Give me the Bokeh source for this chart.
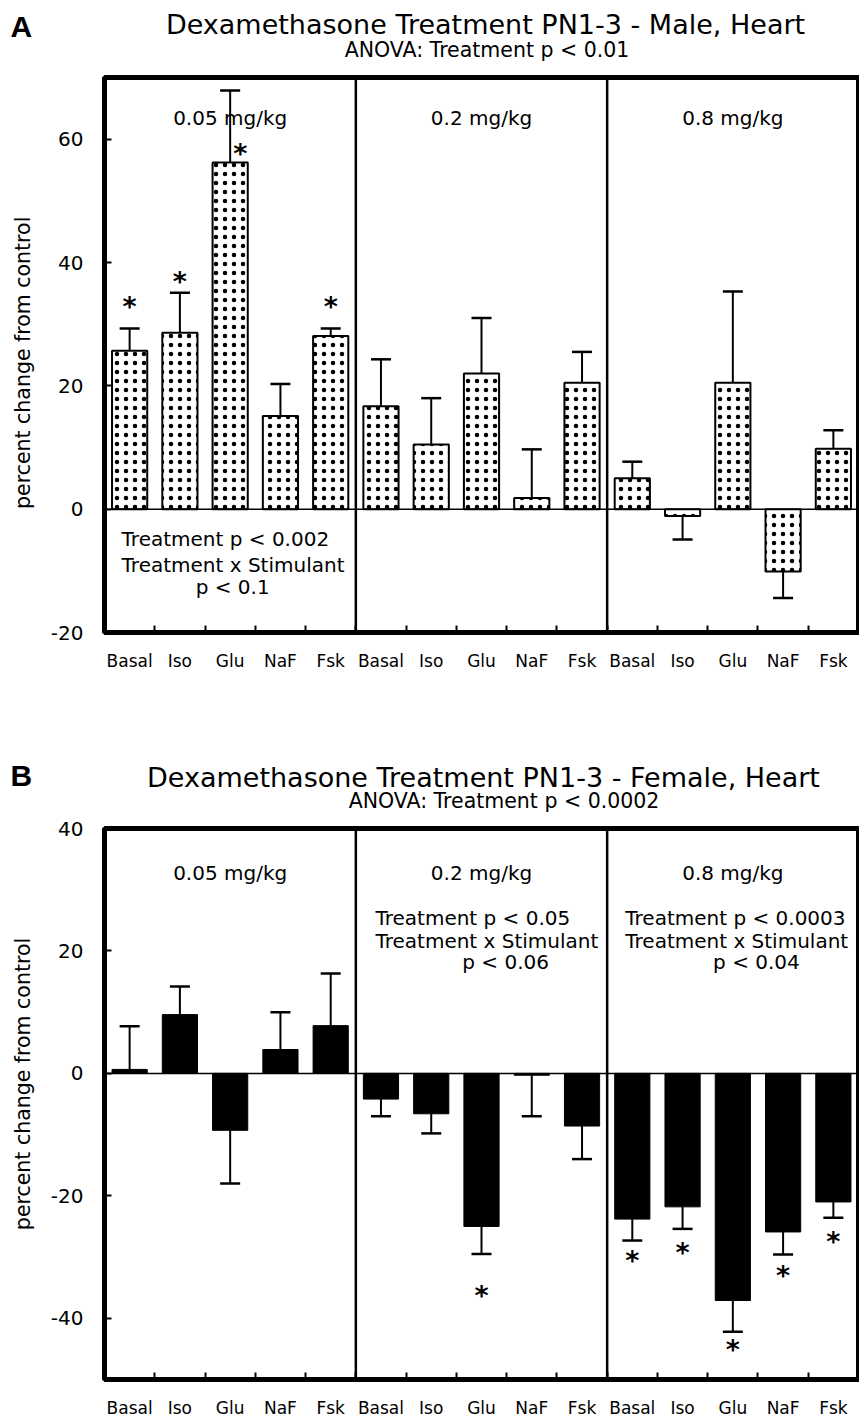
import math
from bokeh.plotting import figure
from bokeh.models import Span, Label, FixedTicker
from bokeh.layouts import column, row
from bokeh.embed import file_html
from bokeh.resources import INLINE
from bokeh.core.properties import value

# ---------------- data ----------------
stimulants = ["Basal", "Iso", "Glu", "NaF", "Fsk"]
doses = ["0.05 mg/kg", "0.2 mg/kg", "0.8 mg/kg"]

male_mean = [25.7, 28.6, 56.2, 15.1, 28.1,
             16.7, 10.5, 22.0, 1.8, 20.5,
             5.0, -1.1, 20.5, -10.1, 9.8]
male_err = [29.3, 35.1, 67.9, 20.3, 29.3,
            24.3, 18.0, 31.0, 9.7, 25.5,
            7.7, -4.9, 35.3, -14.4, 12.8]
male_star_x = [0.5, 1.5, 2.7, 4.5]
male_star_y = [33.8, 37.9, 58.7, 33.8]

female_mean = [0.65, 9.6, -9.3, 3.9, 7.8,
               -4.2, -6.6, -25.0, -0.3, -8.6,
               -23.8, -21.8, -37.1, -25.9, -21.0]
female_err = [7.7, 14.2, -18.0, 10.0, 16.3,
              -7.0, -9.8, -29.5, -7.0, -14.0,
              -27.3, -25.4, -42.2, -29.6, -23.6]
female_star_x = [7.5, 10.5, 11.5, 12.5, 13.5, 14.5]
female_star_y = [-35.3, -29.6, -28.2, -44.1, -32.1, -26.4]

male_title = "Dexamethasone Treatment PN1-3 - Male, Heart"
male_sub = "ANOVA: Treatment p < 0.01"
female_title = "Dexamethasone Treatment PN1-3 - Female, Heart"
female_sub = "ANOVA: Treatment p < 0.0002"
male_stats = [["Treatment p < 0.002", "Treatment x Stimulant", "p < 0.1"], None, None]
female_stats = [None, ["Treatment p < 0.05", "Treatment x Stimulant", "p < 0.06"],
                ["Treatment p < 0.0003", "Treatment x Stimulant", "p < 0.04"]]
y_label = "percent change from control"

FONT = "DejaVu Sans"
n = len(stimulants) * len(doses)
xs = [i + 0.5 for i in range(n)]
labels = {xs[i]: stimulants[i % len(stimulants)] for i in range(n)}


def header(h, letter, letter_y, title, title_xy, sub, sub_xy):
    p = figure(width=859, height=h, x_range=(0, 859), y_range=(0, h),
               output_backend="svg", toolbar_location=None,
               x_axis_type=None, y_axis_type=None)
    p.min_border = 0
    p.outline_line_color = None
    p.xgrid.visible = False
    p.ygrid.visible = False
    p.add_layout(Label(x=10, y=h - letter_y, text=letter, text_align="left",
                       text_baseline="middle", text_font="Liberation Sans",
                       text_font_style="bold", text_font_size="30px", text_color="black"))
    p.add_layout(Label(x=title_xy[0], y=h - title_xy[1], text=title, text_align="center",
                       text_baseline="middle", text_font=FONT, text_font_size="27px",
                       text_color="black"))
    p.add_layout(Label(x=sub_xy[0], y=h - sub_xy[1], text=sub, text_align="center",
                       text_baseline="middle", text_font=FONT, text_font_size="20.5px",
                       text_color="black"))
    return p


def strip(h, yc):
    p = figure(width=40, height=h, x_range=(0, 40), y_range=(0, h),
               output_backend="svg", toolbar_location=None,
               x_axis_type=None, y_axis_type=None)
    p.min_border = 0
    p.outline_line_color = None
    p.xgrid.visible = False
    p.ygrid.visible = False
    p.add_layout(Label(x=22, y=h - yc, text=y_label, angle=math.pi / 2,
                       text_align="center", text_baseline="middle", text_font=FONT,
                       text_font_size="20.5px", text_color="black"))
    return p


def make_panel(mean, err, star_x, star_y, yr, yticks, hatched, h, border_top, border_bottom,
               stats, dose_y, stat_pos):
    p = figure(width=819, height=h, x_range=(0, n), y_range=yr,
               output_backend="svg", toolbar_location=None,
               min_border_left=64, min_border_right=1,
               min_border_top=border_top, min_border_bottom=border_bottom)
    p.xgrid.visible = False
    p.ygrid.visible = False
    p.outline_line_color = "black"
    p.outline_line_width = 5

    if hatched:
        p.vbar(x=xs, top=mean, bottom=0, width=0.7, fill_color="white",
               line_color="black", line_width=2, hatch_pattern="dot",
               hatch_color="black", hatch_scale=9, hatch_weight=6)
    else:
        p.vbar(x=xs, top=mean, bottom=0, width=0.7, fill_color="black",
               line_color="black", line_width=1)
    p.segment(x0=xs, y0=mean, x1=xs, y1=err, line_color="black", line_width=2)
    p.scatter(x=xs, y=err, marker="dash", size=20, line_color="black", line_width=2.5)
    p.text(x=star_x, y=star_y, text=["*"] * len(star_x),
           text_align="center", text_baseline="middle", text_font=value(FONT),
           text_font_style="bold", text_font_size="27px", y_offset=6, text_color="black")

    p.add_layout(Span(location=0, dimension="width", line_color="black", line_width=1.5))
    for b in (5, 10):
        p.add_layout(Span(location=b, dimension="height", line_color="black", line_width=2.5))

    xa = p.xaxis[0]
    xa.ticker = FixedTicker(ticks=xs, minor_ticks=list(range(1, n)))
    xa.major_label_overrides = labels
    xa.major_tick_in = 0
    xa.major_tick_out = 0
    xa.minor_tick_in = 7
    xa.minor_tick_out = 0
    xa.minor_tick_line_width = 2
    xa.axis_line_width = 5
    xa.major_label_standoff = 18
    xa.major_label_text_font = FONT
    xa.major_label_text_font_size = "17px"
    xa.major_label_text_color = "black"

    ya = p.yaxis[0]
    ya.ticker = FixedTicker(ticks=yticks)
    ya.major_label_overrides = {t: str(t) for t in yticks}
    ya.major_tick_in = 7
    ya.major_tick_out = 0
    ya.major_tick_line_width = 2
    ya.minor_tick_in = 0
    ya.minor_tick_out = 0
    ya.axis_line_width = 5
    ya.major_label_standoff = 21
    ya.major_label_text_font = FONT
    ya.major_label_text_font_size = "20px"
    ya.major_label_text_color = "black"

    for k, d in enumerate(doses):
        p.add_layout(Label(x=5 * k + 2.5, y=dose_y, text=d, text_align="center",
                           text_baseline="middle", text_font=FONT, text_font_size="20px",
                           text_color="black"))
    for k, st in enumerate(stats):
        if st is None:
            continue
        left_x, center_x = stat_pos[0][k], stat_pos[1][k]
        ys = stat_pos[2]
        for j, (txt, align, xx) in enumerate([(st[0], "left", left_x), (st[1], "left", left_x),
                                              (st[2], "center", center_x)]):
            p.add_layout(Label(x=xx, y=ys[j], text=txt, text_align=align,
                               text_baseline="middle", text_font=FONT,
                               text_font_size="20px", text_color="black"))
    return p


hA = header(70, "A", 26, male_title, (485, 23.5), male_sub, (486.5, 49))
sA = strip(640, 329)
pA = make_panel(male_mean, male_err, male_star_x, male_star_y, (-20, 70), [-20, 0, 20, 40, 60],
                True, 640, 7, 78, male_stats, 63.4,
                ([0.34, None, None], [2.55, None, None], [-4.9, -9.0, -12.6]))

hB = header(104, "B", 775 - 710, female_title, (483, 776.5 - 710), female_sub, (503.5, 800.5 - 710))
sB = strip(606, 281)
pB = make_panel(female_mean, female_err, female_star_x, female_star_y, (-50, 40), [-40, -20, 0, 20, 40],
                False, 606, 14, 40, female_stats, 32.7,
                ([None, 5.39, 10.36], [None, 7.98, 12.97], [25.3, 21.7, 18.2]))

layout = column(hA, row(sA, pA, spacing=0), hB, row(sB, pB, spacing=0), spacing=0)
open("out.html", "w").write(file_html(layout, INLINE))
